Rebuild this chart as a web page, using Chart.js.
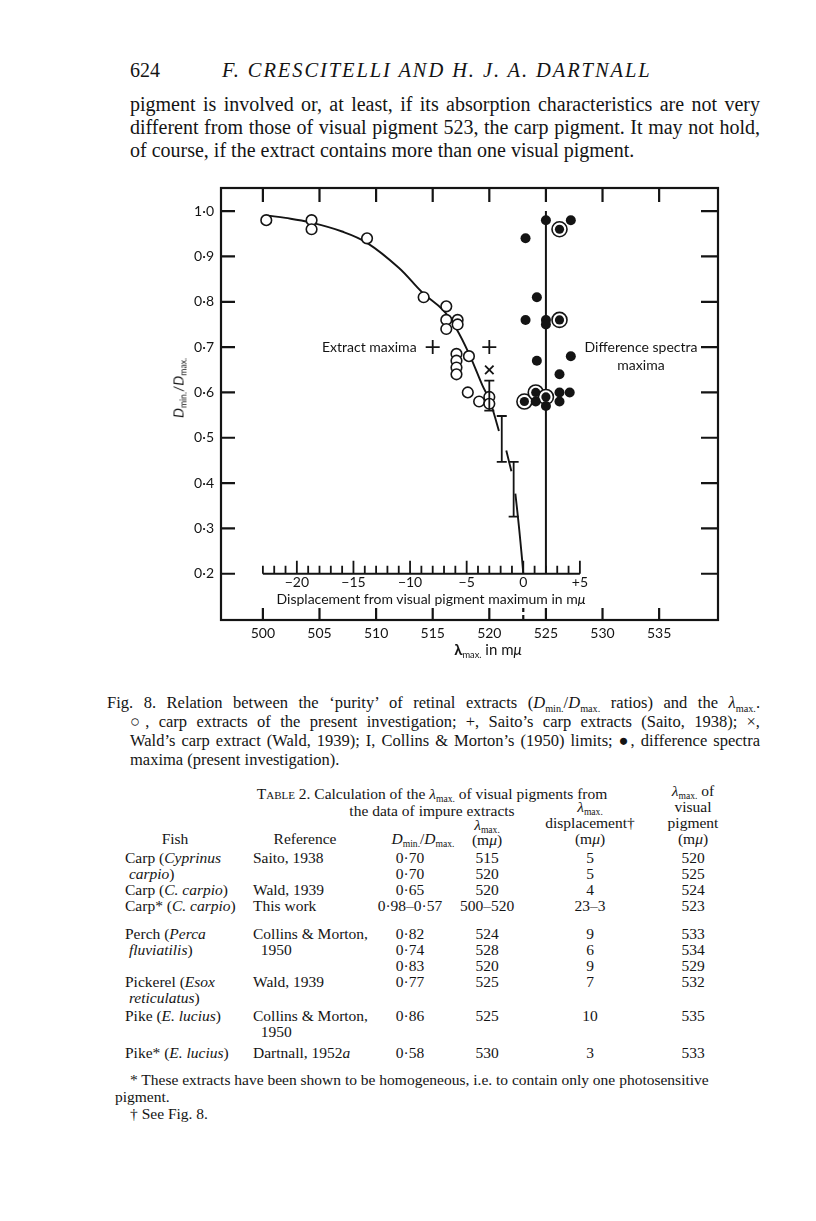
<!DOCTYPE html>
<html>
<head>
<meta charset="utf-8">
<title>Fig. 8 – purity of retinal extracts vs lambda max</title>
<script src="https://cdn.jsdelivr.net/npm/chart.js@4.4.1/dist/chart.umd.min.js"></script>
<style>
  body { margin: 0; width: 816px; height: 1221px; background: #fff; position: relative; color: #141414;
         font-family: "Liberation Serif", "Times New Roman", serif; }
  .abs { position: absolute; white-space: nowrap; }
  .line { position: absolute; text-align: justify; text-align-last: justify; white-space: normal; }
  .fig { font-family: Lato, "Open Sans", sans-serif; font-size: 14px; }
  sub { font-size: 0.62em; vertical-align: -0.35em; line-height: 0; }
  .tc { position: absolute; white-space: nowrap; font-size: 15.5px; line-height: 16px; }
  #myChart { position: absolute; left: 150px; top: 170px; }
</style>
</head>
<body>

<div class="abs" style="left:130px; top:59px; font-size:20px;">624</div>
<div class="abs" style="left:222px; top:59px; font-size:20.5px; font-style:italic; letter-spacing:1.9px;">F. CRESCITELLI AND H. J. A. DARTNALL</div>

<div class="line" style="left:130px; top:93px; width:630px; font-size:20px; line-height:23px;">pigment is involved or, at least, if its absorption characteristics are not very</div>
<div class="line" style="left:130px; top:116px; width:630px; font-size:20px; line-height:23px;">different from those of visual pigment 523, the carp pigment. It may not hold,</div>
<div class="abs" style="left:130px; top:139px; font-size:20px; line-height:23px;">of course, if the extract contains more than one visual pigment.</div>

<canvas id="myChart" width="600" height="500"></canvas>

<!-- figure labels -->
<div class="abs fig" style="left:178px; top:388px; transform:translate(-50%,-50%) rotate(-90deg);"><i>D</i><sub>min.</sub>/<i>D</i><sub>max.</sub></div>
<div class="abs fig" style="left:322px; top:338px;">Extract maxima</div>
<div class="abs fig" style="left:641px; top:338px; transform:translateX(-50%); text-align:center; line-height:18px;">Difference spectra<br>maxima</div>
<div class="abs fig" style="left:431px; top:590px; transform:translateX(-50%);">Displacement from visual pigment maximum in m<i>μ</i></div>
<div class="abs fig" style="left:488px; top:640px; transform:translateX(-50%); font-size:15px;"><b>λ</b><sub>max.</sub> in m<i>μ</i></div>

<!-- caption -->
<div class="line" style="left:107px; top:693px; width:653px; font-size:16.5px; line-height:19px;">Fig. 8. Relation between the ‘purity’ of retinal extracts (<i>D</i><sub>min.</sub>/<i>D</i><sub>max.</sub> ratios) and the <i>λ</i><sub>max.</sub>.</div>
<div class="line" style="left:130px; top:712px; width:630px; font-size:16.5px; line-height:19px;">○, carp extracts of the present investigation; +, Saito’s carp extracts (Saito, 1938); ×,</div>
<div class="line" style="left:130px; top:731px; width:630px; font-size:16.5px; line-height:19px;">Wald’s carp extract (Wald, 1939); I, Collins &amp; Morton’s (1950) limits; ●, difference spectra</div>
<div class="abs" style="left:130px; top:750px; font-size:16.5px; line-height:19px;">maxima (present investigation).</div>

<!-- table -->
<div class="abs" style="left:432px; top:785px; transform:translateX(-50%); font-size:15.5px; line-height:17px; text-align:center;"><span style="font-variant:small-caps;">Table</span> 2. Calculation of the <i>λ</i><sub>max.</sub> of visual pigments from<br>the data of impure extracts</div>

<div class="tc" style="left:693px; top:783px; transform:translateX(-50%); text-align:center;"><i>λ</i><sub>max.</sub> of<br>visual<br>pigment<br>(m<i>μ</i>)</div>
<div class="tc" style="left:590px; top:799px; transform:translateX(-50%); text-align:center;"><i>λ</i><sub>max.</sub><br>displacement†<br>(m<i>μ</i>)</div>
<div class="tc" style="left:487px; top:817px; transform:translateX(-50%); text-align:center; line-height:15px;"><i>λ</i><sub>max.</sub><br>(m<i>μ</i>)</div>
<div class="tc" style="left:175px; top:831px; transform:translateX(-50%);">Fish</div>
<div class="tc" style="left:305px; top:831px; transform:translateX(-50%);">Reference</div>
<div class="tc" style="left:423px; top:831px; transform:translateX(-50%);"><i>D</i><sub>min.</sub>/<i>D</i><sub>max.</sub></div>

<div id="tbl"></div>

<div class="abs" style="left:130px; top:1071px; font-size:15.5px; line-height:17px;">* These extracts have been shown to be homogeneous, i.e. to contain only one photosensitive</div>
<div class="abs" style="left:115px; top:1088px; font-size:15.5px; line-height:17px;">pigment.</div>
<div class="abs" style="left:130px; top:1105px; font-size:15.5px; line-height:17px;">† See Fig. 8.</div>

<script>
const ink = '#141414';

// axis ticks
const xTicks = [500, 505, 510, 515, 520, 525, 530, 535];
const yTicks = [0.2, 0.3, 0.4, 0.5, 0.6, 0.7, 0.8, 0.9, 1.0];
const xMin = 496.3, xMax = 540.2, yMin = 0.098, yMax = 1.051;

// inner displacement scale (mu from visual pigment max = 523)
const pigmentMax = 523;
const dispAxisAt = 0.2;
const dispTicks = [-23, -22, -21, -20, -19, -18, -17, -16, -15, -14, -13, -12, -11, -10,
                   -9, -8, -7, -6, -5, -4, -3, -2, -1, 0, 1, 2, 3, 4, 5];
const dispLabels = [-20, -15, -10, -5, 0, 5];

// carp extracts, present investigation (open circles)
const openLam = [500.3, 504.3, 504.3, 509.2, 514.2, 516.2, 516.2, 516.2, 517.2, 517.2,
                 517.1, 517.1, 517.1, 517.1, 518.2, 518.1, 519.1, 520.0, 520.0];
const openVal = [0.98, 0.98, 0.96, 0.94, 0.81, 0.79, 0.76, 0.74, 0.76, 0.75,
                 0.685, 0.67, 0.655, 0.64, 0.68, 0.60, 0.58, 0.59, 0.575];

// Saito (+) and Wald (x)
const saitoLam = [515, 520];
const saitoVal = [0.70, 0.70];
const waldLam = [520];
const waldVal = [0.65];

// difference spectra maxima (filled), ringed ones separately
const diffLam = [525.0, 527.2, 523.2, 524.2, 523.2, 525.0, 525.0, 524.2, 527.2, 526.2,
                 524.1, 525.0, 526.2, 526.2, 527.1];
const diffVal = [0.98, 0.98, 0.94, 0.81, 0.76, 0.76, 0.75, 0.67, 0.68, 0.64,
                 0.58, 0.57, 0.60, 0.58, 0.60];
const ringLam = [526.2, 526.2, 523.1, 524.1, 525.0];
const ringVal = [0.96, 0.76, 0.58, 0.60, 0.59];

// Collins & Morton limits (I bars)
const limLam = [520.0, 521.1, 522.15];
const limLo = [0.56, 0.447, 0.326];
const limHi = [0.626, 0.548, 0.447];

// smooth curve through the extracts (null = break)
const curveLam = [500.4, 502.0, 504.2, 507.0, 509.2, 512.0, 514.1, 515.9, 517.1, 518.3, 519.4, 520.0, 520.4, 520.85,
                  null, 521.5, 521.95,
                  null, 522.3, 522.55, 522.75, 522.9, 523.0];
const curveVal = [0.99, 0.985, 0.975, 0.955, 0.93, 0.875, 0.82, 0.782, 0.74, 0.68, 0.615, 0.585, 0.554, 0.515,
                  null, 0.472, 0.426,
                  null, 0.377, 0.32, 0.27, 0.23, 0.2];

// vertical line at 525
const vLineLam = [525, 525];
const vLineVal = [0.2, 1.0];

const pts = (xs, ys) => xs.map((v, i) => ({x: v, y: ys[i]}));

const frame = {
    id: 'frame',
    beforeDatasetsDraw(chart) {
        const {ctx, chartArea: a, scales: {x, y}} = chart;
        ctx.save();
        ctx.strokeStyle = ink;
        ctx.lineWidth = 2.2;
        ctx.strokeRect(a.left, a.top, a.right - a.left, a.bottom - a.top);
        ctx.beginPath();
        xTicks.forEach(v => {
            const px = x.getPixelForValue(v);
            ctx.moveTo(px, a.top); ctx.lineTo(px, a.top + 14);
            ctx.moveTo(px, a.bottom); ctx.lineTo(px, a.bottom - 12);
        });
        yTicks.forEach(v => {
            const py = y.getPixelForValue(v);
            ctx.moveTo(a.left, py); ctx.lineTo(a.left + 14, py);
            ctx.moveTo(a.right, py); ctx.lineTo(a.right - 17, py);
        });
        ctx.stroke();

        // dashed mark at the pigment maximum on the bottom axis
        ctx.save();
        ctx.setLineDash([4, 3]);
        ctx.beginPath();
        const pm = x.getPixelForValue(pigmentMax);
        ctx.moveTo(pm, a.bottom - 12); ctx.lineTo(pm, a.bottom);
        ctx.stroke();
        ctx.restore();

        // displacement axis
        const yd = y.getPixelForValue(dispAxisAt);
        ctx.lineWidth = 1.8;
        ctx.beginPath();
        ctx.moveTo(x.getPixelForValue(pigmentMax + dispTicks[0]), yd);
        ctx.lineTo(x.getPixelForValue(pigmentMax + dispTicks[dispTicks.length - 1]), yd);
        dispTicks.forEach(d => {
            const px = x.getPixelForValue(pigmentMax + d);
            const len = dispLabels.includes(d) ? 13 : 8;
            ctx.moveTo(px, yd); ctx.lineTo(px, yd - len);
        });
        ctx.stroke();
        ctx.fillStyle = ink;
        ctx.font = '14px Lato';
        ctx.textAlign = 'center';
        ctx.textBaseline = 'top';
        dispLabels.forEach(d => {
            const txt = d > 0 ? '+' + d : (d < 0 ? '\u2212' + (-d) : '0');
            ctx.fillText(txt, x.getPixelForValue(pigmentMax + d), yd + 2);
        });
        ctx.restore();
    },
    afterDatasetsDraw(chart) {
        const {ctx, scales: {x, y}} = chart;
        ctx.save();
        ctx.strokeStyle = ink;
        ctx.lineWidth = 1.8;
        ctx.beginPath();
        limLam.forEach((v, i) => {
            const px = x.getPixelForValue(v);
            const top = y.getPixelForValue(limHi[i]);
            const bot = y.getPixelForValue(limLo[i]);
            ctx.moveTo(px, top); ctx.lineTo(px, bot);
            ctx.moveTo(px - 5, top); ctx.lineTo(px + 5, top);
            ctx.moveTo(px - 5, bot); ctx.lineTo(px + 5, bot);
        });
        ctx.stroke();
        ctx.restore();
    }
};

const ctx = document.getElementById('myChart').getContext('2d');
const myChart = new Chart(ctx, {
    type: 'scatter',
    data: {
        datasets: [
            {
                label: 'curve',
                data: pts(curveLam, curveVal),
                showLine: true, spanGaps: false, tension: 0.4,
                borderColor: ink, borderWidth: 1.9, pointRadius: 0, order: 6
            },
            {
                label: 'pigment 525',
                data: pts(vLineLam, vLineVal),
                showLine: true, borderColor: ink, borderWidth: 2, pointRadius: 0, order: 6
            },
            {
                label: 'ring',
                data: pts(ringLam, ringVal),
                pointStyle: 'circle', pointRadius: 7.5, backgroundColor: '#fff',
                borderColor: ink, borderWidth: 1.6, order: 4
            },
            {
                label: 'carp extracts',
                data: pts(openLam, openVal),
                pointStyle: 'circle', pointRadius: 5.3, backgroundColor: '#fff',
                borderColor: ink, borderWidth: 1.6, order: 3
            },
            {
                label: 'Saito',
                data: pts(saitoLam, saitoVal),
                pointStyle: 'cross', pointRadius: 7, borderColor: ink, borderWidth: 1.8, order: 1
            },
            {
                label: 'Wald',
                data: pts(waldLam, waldVal),
                pointStyle: 'crossRot', pointRadius: 6, borderColor: ink, borderWidth: 1.8, order: 1
            },
            {
                label: 'difference spectra',
                data: pts(diffLam, diffVal),
                pointStyle: 'circle', pointRadius: 5, backgroundColor: ink, borderWidth: 0, order: 2
            },
            {
                label: 'difference spectra (ringed)',
                data: pts(ringLam, ringVal),
                pointStyle: 'circle', pointRadius: 4.6, backgroundColor: ink, borderWidth: 0, order: 2
            }
        ]
    },
    options: {
        responsive: false,
        animation: false,
        events: [],
        layout: { padding: { top: 18, right: 32, left: 0, bottom: 0 } },
        plugins: { legend: { display: false }, tooltip: { enabled: false } },
        scales: {
            x: {
                type: 'linear', min: xMin, max: xMax,
                afterBuildTicks: axis => { axis.ticks = xTicks.map(v => ({value: v})); },
                afterFit: axis => { axis.height = 50; },
                grid: { display: false, drawTicks: false },
                border: { display: false },
                ticks: { color: ink, padding: 5, font: { family: 'Lato', size: 14 }, callback: v => String(v) }
            },
            y: {
                type: 'linear', min: yMin, max: yMax,
                afterBuildTicks: axis => { axis.ticks = yTicks.map(v => ({value: v})); },
                afterFit: axis => { axis.width = 71; },
                grid: { display: false, drawTicks: false },
                border: { display: false },
                ticks: { color: ink, padding: 7, font: { family: 'Lato', size: 14 },
                         callback: v => v.toFixed(1).replace('.', '\u00b7') }
            }
        }
    },
    plugins: [frame]
});

// table body
const tblRows = [
    ['Carp (<i>Cyprinus</i>', 'Saito, 1938', '0·70', '515', '5', '520'],
    ['&nbsp;<i>carpio</i>)', '', '0·70', '520', '5', '525'],
    ['Carp (<i>C. carpio</i>)', 'Wald, 1939', '0·65', '520', '4', '524'],
    ['Carp* (<i>C. carpio</i>)', 'This work', '0·98–0·57', '500–520', '23–3', '523'],
    ['Perch (<i>Perca</i>', 'Collins &amp; Morton,', '0·82', '524', '9', '533'],
    ['&nbsp;<i>fluviatilis</i>)', '&nbsp;&nbsp;1950', '0·74', '528', '6', '534'],
    ['', '', '0·83', '520', '9', '529'],
    ['Pickerel (<i>Esox</i>', 'Wald, 1939', '0·77', '525', '7', '532'],
    ['&nbsp;<i>reticulatus</i>)', '', '', '', '', ''],
    ['Pike (<i>E. lucius</i>)', 'Collins &amp; Morton,', '0·86', '525', '10', '535'],
    ['', '&nbsp;&nbsp;1950', '', '', '', ''],
    ['Pike* (<i>E. lucius</i>)', 'Dartnall, 1952<i>a</i>', '0·58', '530', '3', '533']
];
const tblTops = [850, 866, 882, 898, 926, 942, 958, 974, 990, 1008, 1024, 1045];
const colLeft = [125, 253];
const colCenter = [null, null, 410, 487, 590, 693];
const tbl = document.getElementById('tbl');
tblRows.forEach((row, r) => {
    row.forEach((cell, c) => {
        if (!cell) return;
        const d = document.createElement('div');
        d.className = 'tc';
        d.style.top = tblTops[r] + 'px';
        if (c < 2) {
            d.style.left = colLeft[c] + 'px';
        } else {
            d.style.left = colCenter[c] + 'px';
            d.style.transform = 'translateX(-50%)';
        }
        d.innerHTML = cell;
        tbl.appendChild(d);
    });
});
</script>
</body>
</html>
